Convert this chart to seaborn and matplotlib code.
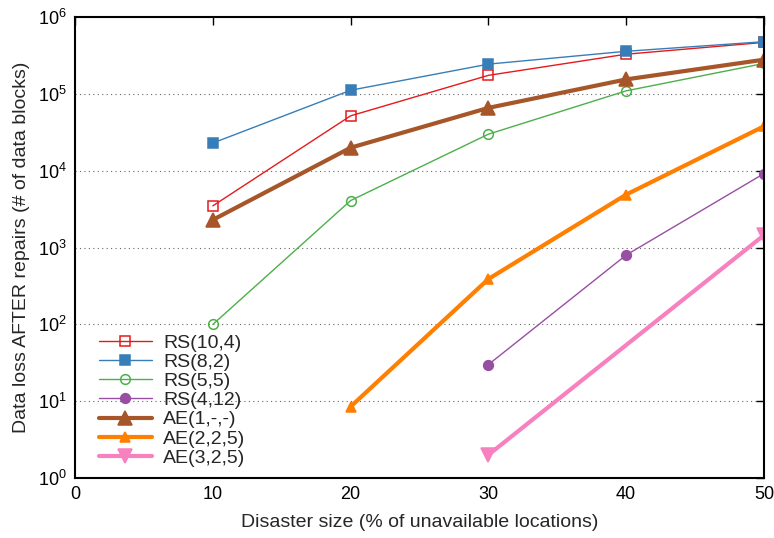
import matplotlib
matplotlib.use("Agg")
import matplotlib.pyplot as plt
import matplotlib.ticker as mticker
import seaborn as sns
import pandas as pd

sns.set_style("white")
plt.rcParams['font.family'] = ['Liberation Sans', 'DejaVu Sans']
plt.rcParams['mathtext.default'] = 'regular'

x_all = [10, 20, 30, 40, 50]
rs_10_4 = [3.5e3, 5.2e4, 1.75e5, 3.3e5, 4.7e5]
rs_8_2 = [2.3e4, 1.12e5, 2.45e5, 3.6e5, 4.8e5]
rs_5_5 = [1.0e2, 4.1e3, 3.0e4, 1.1e5, 2.5e5]
x_rs_4_12 = [30, 40, 50]
rs_4_12 = [30, 800, 9.2e3]
ae_1 = [2.3e3, 2.0e4, 6.6e4, 1.55e5, 2.8e5]
x_ae_2 = [20, 30, 40, 50]
ae_2_2_5 = [8.5, 390, 4.9e3, 3.8e4]
x_ae_3 = [30, 50]
ae_3_2_5 = [2.0, 1.45e3]

series = [
    ("RS(10,4)", x_all, rs_10_4, "#e41a1c", "s", 1.0, 7, "none"),
    ("RS(8,2)", x_all, rs_8_2, "#377eb8", "s", 1.0, 7, None),
    ("RS(5,5)", x_all, rs_5_5, "#4daf4a", "o", 1.0, 7, "none"),
    ("RS(4,12)", x_rs_4_12, rs_4_12, "#984ea3", "o", 1.0, 7, None),
    ("AE(1,-,-)", x_all, ae_1, "#a65628", "^", 3.0, 10, None),
    ("AE(2,2,5)", x_ae_2, ae_2_2_5, "#ff7f00", "^", 3.0, 7.5, None),
    ("AE(3,2,5)", x_ae_3, ae_3_2_5, "#f781bf", "v", 3.0, 10, None),
]

fig = plt.figure(figsize=(7.74, 5.38), dpi=100)
ax = fig.add_axes([0.097, 0.1115, 0.890, 0.8565])

for name, xs, ys, color, marker, lw, ms, mfc in series:
    df = pd.DataFrame({"x": xs, "y": ys})
    kw = dict(color=color, marker=marker, linewidth=lw, markersize=ms,
              markeredgecolor=color, markeredgewidth=1.1, label=name)
    if mfc is not None:
        kw["markerfacecolor"] = mfc
    sns.lineplot(data=df, x="x", y="y", ax=ax, **kw)

ax.set_yscale("log")
ax.set_xlim(0, 50)
ax.set_ylim(1, 1e6)
ax.set_xticks([0, 10, 20, 30, 40, 50])
ax.yaxis.set_major_locator(mticker.LogLocator(base=10, numticks=10))
ax.yaxis.set_minor_locator(mticker.NullLocator())
ax.tick_params(direction="in", length=6, width=1, top=True, right=True,
               labelsize=13, colors="black", pad=6)
ax.yaxis.grid(True, linestyle=(0, (1, 3)), color="#666666", linewidth=0.8)
ax.xaxis.grid(False)
for s in ax.spines.values():
    s.set_color("black")
    s.set_linewidth(1.5)

ax.set_xlabel("Disaster size (% of unavailable locations)", fontsize=14, labelpad=8)
ax.set_ylabel("Data loss AFTER repairs (# of data blocks)", fontsize=14, labelpad=6)

leg = ax.legend(loc="lower left", bbox_to_anchor=(0.015, -0.005), frameon=False,
                fontsize=14, handlelength=2.7, labelspacing=0.08,
                handletextpad=0.6, borderaxespad=0.3)

fig.savefig("out.png", dpi=100)
